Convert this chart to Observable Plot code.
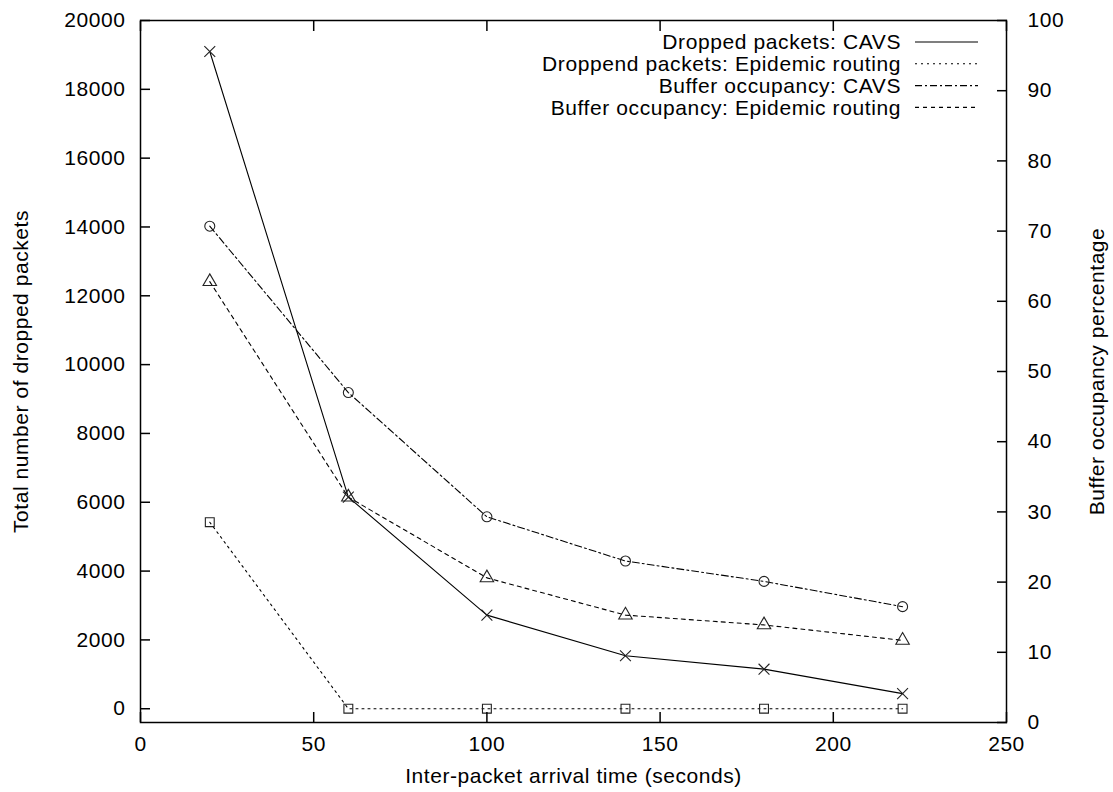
<!DOCTYPE html>
<html>
<head>
<meta charset="utf-8">
<script src="https://cdn.jsdelivr.net/npm/d3@7"></script>
<script src="https://cdn.jsdelivr.net/npm/@observablehq/plot@0.6"></script>
<style>
  html, body { margin: 0; padding: 0; background: #fff; }
  #wrap { position: relative; width: 1113px; height: 792px; }
  #wrap svg { font-family: "Liberation Sans", Arial, Helvetica, sans-serif; }
  #legend { position: absolute; left: 0; top: 0; pointer-events: none; }
</style>
</head>
<body>
<div id="wrap"></div>
<script>
// ---- data ----
const arrivalTimes = [20, 60, 100, 140, 180, 220];
const droppedCAVS = [19100, 6150, 2720, 1540, 1150, 440];
const droppedEpidemic = [5420, 0, 0, 0, 0, 0];
const bufferCAVS = [70.7, 47.0, 29.3, 23.0, 20.1, 16.5];
const bufferEpidemic = [62.8, 32.1, 20.6, 15.3, 13.9, 11.7];

const xTicks = [0, 50, 100, 150, 200, 250];
const leftTicks = [0, 2000, 4000, 6000, 8000, 10000, 12000, 14000, 16000, 18000, 20000];
const rightTicks = [0, 10, 20, 30, 40, 50, 60, 70, 80, 90, 100];

const seriesNames = [
  "Dropped packets: CAVS",
  "Droppend packets: Epidemic routing",
  "Buffer occupancy: CAVS",
  "Buffer occupancy: Epidemic routing"
];

// ---- scales ----
const leftDomain = [-400, 20000];
const rightDomain = [0, 100];
// map right-axis value onto the left-axis scale
const toLeft = d3.scaleLinear().domain(rightDomain).range(leftDomain);

const W = 1113, H = 792;
const mL = 140, mR = 107, mT = 20, mB = 70;

const rows = (vals, onRight) => arrivalTimes.map((x, i) => ({x, y: onRight ? toLeft(vals[i]) : vals[i]}));
const sCAVS = rows(droppedCAVS, false);
const sEpi = rows(droppedEpidemic, false);
const sBufC = rows(bufferCAVS, true);
const sBufE = rows(bufferEpidemic, true);

const dashes = [null, "2,4", "7,3,2,3", "4,4"];
const symbols = ["times", "square", "circle", "triangle"];
const data = [sCAVS, sEpi, sBufC, sBufE];

const marks = [];
data.forEach((d, i) => {
  marks.push(Plot.line(d, {x: "x", y: "y", stroke: "#000", strokeWidth: 1.1, strokeDasharray: dashes[i]}));
});
data.forEach((d, i) => {
  marks.push(Plot.dot(d, {x: "x", y: "y", symbol: symbols[i], r: 5, stroke: "#222", strokeWidth: 1.1, fill: "none"}));
});

const fmt = d => String(d);

const chart = Plot.plot({
  width: W, height: H,
  marginLeft: mL, marginRight: mR, marginTop: mT, marginBottom: mB,
  style: {fontSize: "21px", fontFamily: "'Liberation Sans', Arial, Helvetica, sans-serif", color: "#000", background: "#fff"},
  x: {domain: [0, 250]},
  y: {domain: leftDomain},
  marks: [
    ...marks,
    Plot.frame({stroke: "#000", strokeWidth: 1.5}),
    Plot.axisX(xTicks, {anchor: "bottom", tickSize: -10, tickPadding: 24, tickFormat: fmt, label: "Inter-packet arrival time (seconds)", labelAnchor: "center", labelOffset: 60, labelArrow: "none", strokeWidth: 1.5}),
    Plot.axisX(xTicks, {anchor: "top", tickSize: -10, tickFormat: () => "", label: null, strokeWidth: 1.5}),
    Plot.axisY(leftTicks, {anchor: "left", tickSize: -10, tickPadding: 25, tickFormat: fmt, label: "Total number of dropped packets", labelAnchor: "center", labelOffset: 127, labelArrow: "none", strokeWidth: 1.5}),
    Plot.axisY(rightTicks.map(v => toLeft(v)), {anchor: "right", tickSize: -10, tickPadding: 31, tickFormat: d => String(Math.round(toLeft.invert(d))), label: "Buffer occupancy percentage", labelAnchor: "center", labelOffset: 97, labelArrow: "none", strokeWidth: 1.5})
  ]
});

const wrap = document.getElementById("wrap");
wrap.appendChild(chart);

// letter spacing for axis titles (gnuplot renders them slightly wider)
d3.select(chart).selectAll("g[aria-label$='label'] text").style("letter-spacing", "0.55px");

// ---- legend (inside plot, top right) ----
const legend = d3.select(wrap).append("svg")
  .attr("id", "legend")
  .attr("width", W).attr("height", H)
  .style("font-family", "'Liberation Sans', Arial, Helvetica, sans-serif")
  .style("font-size", "21px");
const textRight = 901, lineX1 = 915, lineX2 = 978, row0 = 42, rowStep = 21.8;
seriesNames.forEach((name, i) => {
  const y = row0 + i * rowStep;
  legend.append("text")
    .attr("x", textRight).attr("y", y).attr("dy", "0.35em")
    .attr("text-anchor", "end").attr("fill", "#000")
    .style("letter-spacing", "0.6px")
    .text(name);
  legend.append("line")
    .attr("x1", lineX1).attr("x2", lineX2).attr("y1", y).attr("y2", y)
    .attr("stroke", "#000").attr("stroke-width", 1.1)
    .attr("stroke-dasharray", dashes[i]);
});
</script>
</body>
</html>
